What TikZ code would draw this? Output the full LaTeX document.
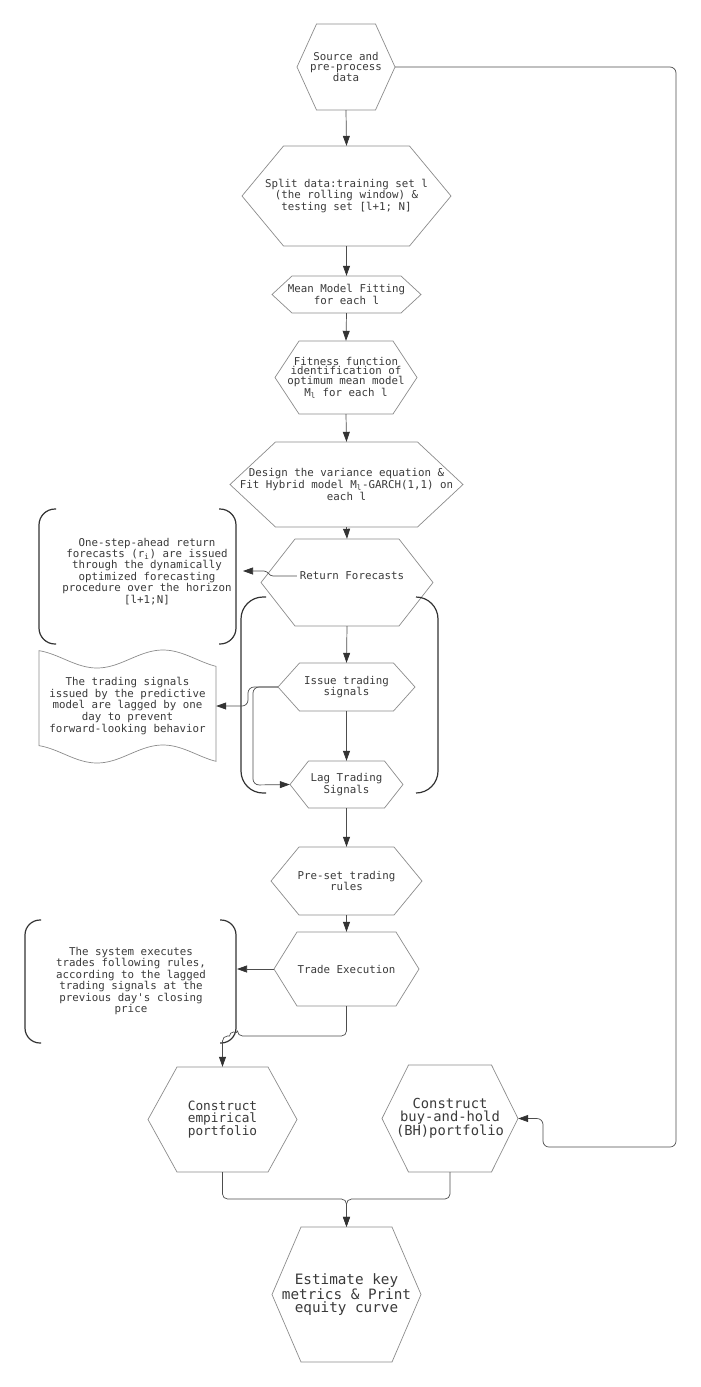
\documentclass[tikz,border=0pt]{standalone}
\usepackage{fontspec}
\newfontfamily\dmono{DejaVu Sans Mono}
\usetikzlibrary{arrows.meta}
\definecolor{txtc}{HTML}{3A3A3A}
\definecolor{hexc}{HTML}{8C8C8C}
\definecolor{linec}{HTML}{4D4D4D}
\definecolor{arrc}{HTML}{333333}
\definecolor{brkc}{HTML}{333333}
\tikzset{
  hexline/.style={draw=hexc, line width=0.7pt, line join=miter},
  hexbox/.style={inner sep=0pt, align=center, text=txtc, font=\dmono\fontsize{10.8}{9.8}\selectfont},
  txtbox/.style={inner sep=0pt, align=center, text=txtc, font=\dmono\fontsize{10.8}{9.8}\selectfont},
  conn/.style={draw=linec, line width=0.7pt, -{Triangle[length=10pt,width=7pt,color=arrc]}},
  brk/.style={draw=brkc, line width=1.2pt},
}
\newcommand{\hexa}[8]{%
  \draw[hexline] ({#2-#4},#3) -- ({#2-#5},{#3-#6}) -- ({#2+#5},{#3-#6}) -- ({#2+#4},#3) -- ({#2+#5},{#3+#6}) -- ({#2-#5},{#3+#6}) -- cycle;
  \node[hexbox, minimum width={2*#4pt}, minimum height={2*#6pt}, #7] (#1) at (#2,#3) {#8};}
\begin{document}
\begin{tikzpicture}[x=1pt,y=-1pt]
\fill[white] (0,0) rectangle (701,1387);
\useasboundingbox (0,0) rectangle (701,1387);

% hexagons
\hexa{src}{346}{67}{49}{29.5}{43}{}{Source and\\pre-process\\data}
\hexa{split}{346.5}{196}{104.5}{63}{50}{}{Split data:training set l\\(the rolling window) \&\\testing set [l+1; N]}
\hexa{mean}{346.5}{294.5}{74.5}{54.5}{18.5}{}{Mean Model Fitting\\for each l}
\hexa{fit}{346}{377.5}{71}{47}{36.5}{}{Fitness function\\identification of\\optimum mean model\\M\textsubscript{l} for each l}
\hexa{design}{346.5}{484.5}{116.5}{71}{42.5}{}{Design the variance equation \&\\Fit Hybrid model M\textsubscript{l}-GARCH(1,1) on\\each l}
\hexa{rf}{347}{582.5}{86}{52}{43.5}{}{}
\node[txtbox] (rfT) at (352,576) {Return Forecasts};
\hexa{iss}{346.5}{687}{68.5}{47}{24}{}{Issue trading\\signals}
\hexa{lag}{346.5}{784.5}{56.5}{38}{23.5}{}{Lag Trading\\Signals}
\hexa{pre}{346.5}{881}{75.5}{47.5}{34}{}{Pre-set trading\\rules}
\hexa{trade}{346.5}{969}{72.5}{49.5}{37}{}{Trade Execution}
\hexa{emp}{222.5}{1119.5}{74.5}{45.5}{52.5}{font=\dmono\fontsize{12.8}{11.7}\selectfont}{Construct\\empirical\\portfolio}
\hexa{bh}{450}{1118.5}{68}{41.5}{53.5}{font=\dmono\fontsize{13.8}{12.5}\selectfont}{Construct\\buy-and-hold\\(BH)portfolio}
\hexa{est}{346.5}{1294.5}{74.5}{45.5}{67.5}{font=\dmono\fontsize{14.3}{13.3}\selectfont}{Estimate key\\metrics \& Print\\equity curve}

% annotation brackets
\draw[brk, rounded corners=16] (56,509) -- (39,509) -- (39,644) -- (56,644);
\draw[brk, rounded corners=16] (219,509) -- (236,509) -- (236,644) -- (219,644);
\node[txtbox] (ann1) at (147,571.5) {One-step-ahead return\\forecasts (r\textsubscript{i}) are issued\\through the dynamically\\optimized forecasting\\procedure over the horizon\\{[}l+1;N{]}};
\coordinate (a1) at (243,571);

\draw[brk, rounded corners=22] (266,597) -- (241,597) -- (241,793) -- (266,793);
\draw[brk, rounded corners=22] (416,597) -- (438,597) -- (438,793) -- (416,793);

\draw[brk, rounded corners=15] (41,920) -- (25,920) -- (25,1043) -- (41,1043);
\draw[brk, rounded corners=15] (220,920) -- (236,920) -- (236,1043) -- (220,1043);
\node[txtbox] (ann3) at (131,981) {The system executes\\trades following rules,\\according to the lagged\\trading signals at the\\previous day's closing\\price};
\coordinate (a3) at (237,969);

% wavy document
\draw[hexline] plot[domain=39:216, samples=60] (\x,{659+9*cos(2.72727*(\x-97))})
  -- plot[domain=216:39, samples=60] (\x,{754+9*cos(2.72727*(\x-97))}) -- cycle;
\node[txtbox, minimum width=177pt, minimum height=95pt] (doc) at (127.5,706) {The trading signals\\issued by the predictive\\model are lagged by one\\day to prevent\\forward-looking behavior};

% main flow connectors
\draw[conn] (src.south) -- (split.north);
\draw[conn] (split.south) -- (mean.north);
\draw[conn] (mean.south) -- (fit.north);
\draw[conn] (fit.south) -- (design.north);
\draw[conn] (design.south) -- (rf.north);
\draw[conn] (rf.south) -- (iss.north);
\draw[conn] (iss.south) -- (lag.north);
\draw[conn] (lag.south) -- (pre.north);
\draw[conn] (pre.south) -- (trade.north);

% side connectors
\draw[conn] ([xshift=-3pt]rfT.west) -- (273,576) to[out=180,in=0] (264,571) -- (a1);
\draw[conn, rounded corners=6] (iss.west) -- (248,687) -- (248,706) -- (doc.east);
\draw[conn, rounded corners=6] (iss.west) -- (253,687) -- (253,785) -- (lag.west);
\draw[conn] (trade.west) -- (a3);
\draw[conn] (trade.south) [rounded corners=5] -- (346.5,1036) -- (237.5,1036) [sharp corners] arc[start angle=0, end angle=-180, radius=4] [rounded corners=5] -- (222.5,1036) -- (emp.north);
\draw[conn, rounded corners=5] (emp.south) -- (222.5,1199) -- (346.5,1199) -- (est.north);
\draw[conn, rounded corners=5] (bh.south) -- (450,1199) -- (346.5,1199) -- (est.north);
\draw[conn, rounded corners=6] (src.east) -- (676,67) -- (676,1147) -- (543,1147) -- (543,1118.5) -- (bh.east);
\end{tikzpicture}
\end{document}
